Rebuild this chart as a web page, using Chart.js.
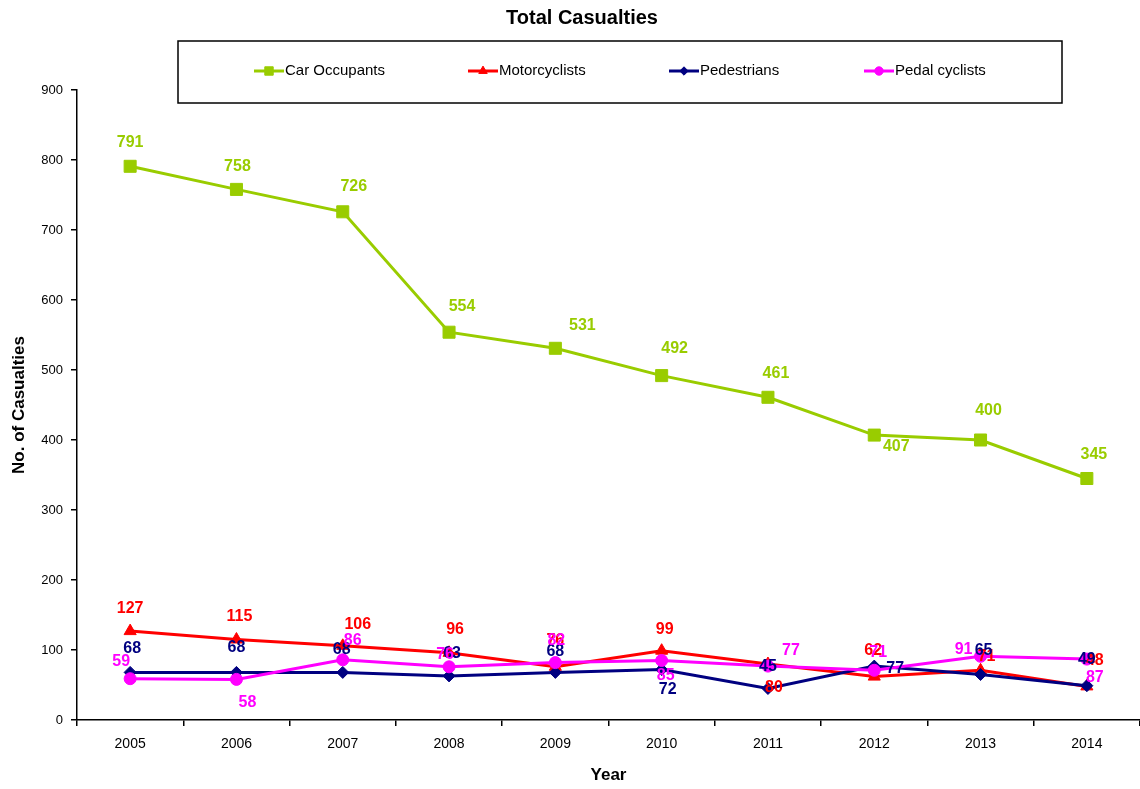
<!DOCTYPE html>
<html>
<head>
<meta charset="utf-8">
<script src="https://cdn.jsdelivr.net/npm/chart.js@4/dist/chart.umd.min.js"></script>
<style>
  html, body { margin: 0; padding: 0; background: #fff; }
  #wrap { width: 1140px; height: 789px; }
</style>
</head>
<body>
<div id="wrap"><canvas id="casualties"></canvas></div>
<script>
// data
const anos = ['2005', '2006', '2007', '2008', '2009', '2010', '2011', '2012', '2013', '2014'];
const carOccupants = [791, 758, 726, 554, 531, 492, 461, 407, 400, 345];
const motorcyclists = [127, 115, 106, 96, 76, 99, 80, 62, 71, 48];
const pedestrians = [68, 68, 68, 63, 68, 72, 45, 77, 65, 49];
const pedalCyclists = [59, 58, 86, 76, 82, 85, 77, 71, 91, 87];

// where excel put each value label, relative to its point [dx, dy]
const labelPos = [
    [[0,-24],[1,-23],[11,-25],[13,-26],[27,-23],[13,-27],[8,-24],[22,11],[8,-29],[7,-24]],
    [[0,-23],[3,-23],[15,-21],[6,-23],[0,-26],[3,-21],[6,24],[-1,-26],[6,-14],[8,-26]],
    [[2,-24],[0,-25],[-1,-23],[3,-22],[0,-21],[6,20],[0,-22],[21,2],[3,-24],[0,-26]],
    [[-9,-17],[11,23],[10,-19],[-4,-12],[1,-22],[4,15],[23,-16],[4,-18],[-17,-7],[8,18]]
];

const FONT = '"Liberation Sans", Arial, sans-serif';

const extras = {
    id: 'extras',
    afterDatasetsDraw(chart) {
        const ctx = chart.ctx;
        ctx.save();
        ctx.font = 'bold 16px ' + FONT;
        ctx.textAlign = 'center';
        ctx.textBaseline = 'middle';
        chart.data.datasets.forEach((ds, i) => {
            const meta = chart.getDatasetMeta(i);
            ctx.fillStyle = ds.borderColor;
            meta.data.forEach((pt, j) => {
                const off = labelPos[i][j];
                ctx.fillText(ds.data[j], pt.x + off[0], pt.y + off[1]);
            });
        });
        ctx.restore();
    },
    afterDraw(chart) {
        const ctx = chart.ctx;
        ctx.save();
        // title
        ctx.fillStyle = '#000';
        ctx.font = 'bold 20px ' + FONT;
        ctx.textAlign = 'center';
        ctx.textBaseline = 'middle';
        ctx.fillText('Total Casualties', 582, 18);
        // legend box
        ctx.fillStyle = '#fff';
        ctx.fillRect(178, 41, 884, 62);
        ctx.strokeStyle = '#000';
        ctx.lineWidth = 1.5;
        ctx.strokeRect(178, 41, 884, 62);
        const xs = [254, 468, 669, 864];
        ctx.font = '15px ' + FONT;
        ctx.textAlign = 'left';
        chart.data.datasets.forEach((ds, i) => {
            const x = xs[i], y = 71;
            ctx.strokeStyle = ds.borderColor;
            ctx.fillStyle = ds.borderColor;
            ctx.lineWidth = 3;
            ctx.beginPath();
            ctx.moveTo(x, y);
            ctx.lineTo(x + 30, y);
            ctx.stroke();
            ctx.lineWidth = 1;
            Chart.helpers.drawPoint(ctx, {
                pointStyle: ds.pointStyle, radius: ds.pointRadius * 0.7, borderWidth: 1
            }, x + 15, y);
            ctx.fillStyle = '#000';
            ctx.fillText(ds.label, x + 31, y);
        });
        ctx.restore();
    }
};

const ctx1 = document.getElementById('casualties');
const chart1 = new Chart(ctx1, {
    type: 'line',
    data: {
        labels: anos,
        datasets: [{
            label: 'Car Occupants',
            data: carOccupants,
            borderColor: '#99CC00',
            backgroundColor: '#99CC00',
            pointStyle: 'rect',
            pointRadius: 8.5,
            order: 3
        },
        {
            label: 'Motorcyclists',
            data: motorcyclists,
            borderColor: '#FF0000',
            backgroundColor: '#FF0000',
            pointStyle: 'triangle',
            pointRadius: 7,
            order: 2
        },
        {
            label: 'Pedestrians',
            data: pedestrians,
            borderColor: '#000080',
            backgroundColor: '#000080',
            pointStyle: 'rectRot',
            pointRadius: 6,
            order: 1
        },
        {
            label: 'Pedal cyclists',
            data: pedalCyclists,
            borderColor: '#FF00FF',
            backgroundColor: '#FF00FF',
            pointStyle: 'circle',
            pointRadius: 6,
            order: 0
        }]
    },
    options: {
        responsive: true,
        maintainAspectRatio: false,
        animation: false,
        layout: { autoPadding: false, padding: { top: 90, right: 0, left: 0, bottom: 0 } },
        elements: {
            line: { borderWidth: 3, tension: 0 },
            point: { borderWidth: 1, hoverRadius: 6 }
        },
        plugins: {
            legend: { display: false },
            title: { display: false },
            tooltip: { enabled: false }
        },
        scales: {
            x: {
                offset: true,
                afterFit(scale) {
                    scale.height = 69;
                    scale.paddingLeft = 0;
                    scale.paddingRight = 0;
                },
                grid: { display: true, drawOnChartArea: false, offset: true, tickLength: 6, color: '#000', lineWidth: 1.5 },
                border: { display: true, color: '#000', width: 1.5 },
                ticks: { color: '#000', font: { family: FONT, size: 14 }, padding: 10, maxRotation: 0 },
                title: { display: true, text: 'Year', color: '#000', font: { family: FONT, size: 17, weight: 'bold' }, padding: { top: 0, bottom: 3 } }
            },
            y: {
                min: 0,
                max: 900,
                afterFit(scale) { scale.width = 77; },
                grid: { display: true, drawOnChartArea: false, tickLength: 6, color: '#000', lineWidth: 1.5 },
                border: { display: true, color: '#000', width: 1.5 },
                ticks: { stepSize: 100, color: '#000', font: { family: FONT, size: 13 }, padding: 8 },
                title: { display: true, text: 'No. of Casualties', color: '#000', font: { family: FONT, size: 17, weight: 'bold' }, padding: { top: 9, bottom: 0 } }
            }
        }
    },
    plugins: [extras]
});
</script>
</body>
</html>
